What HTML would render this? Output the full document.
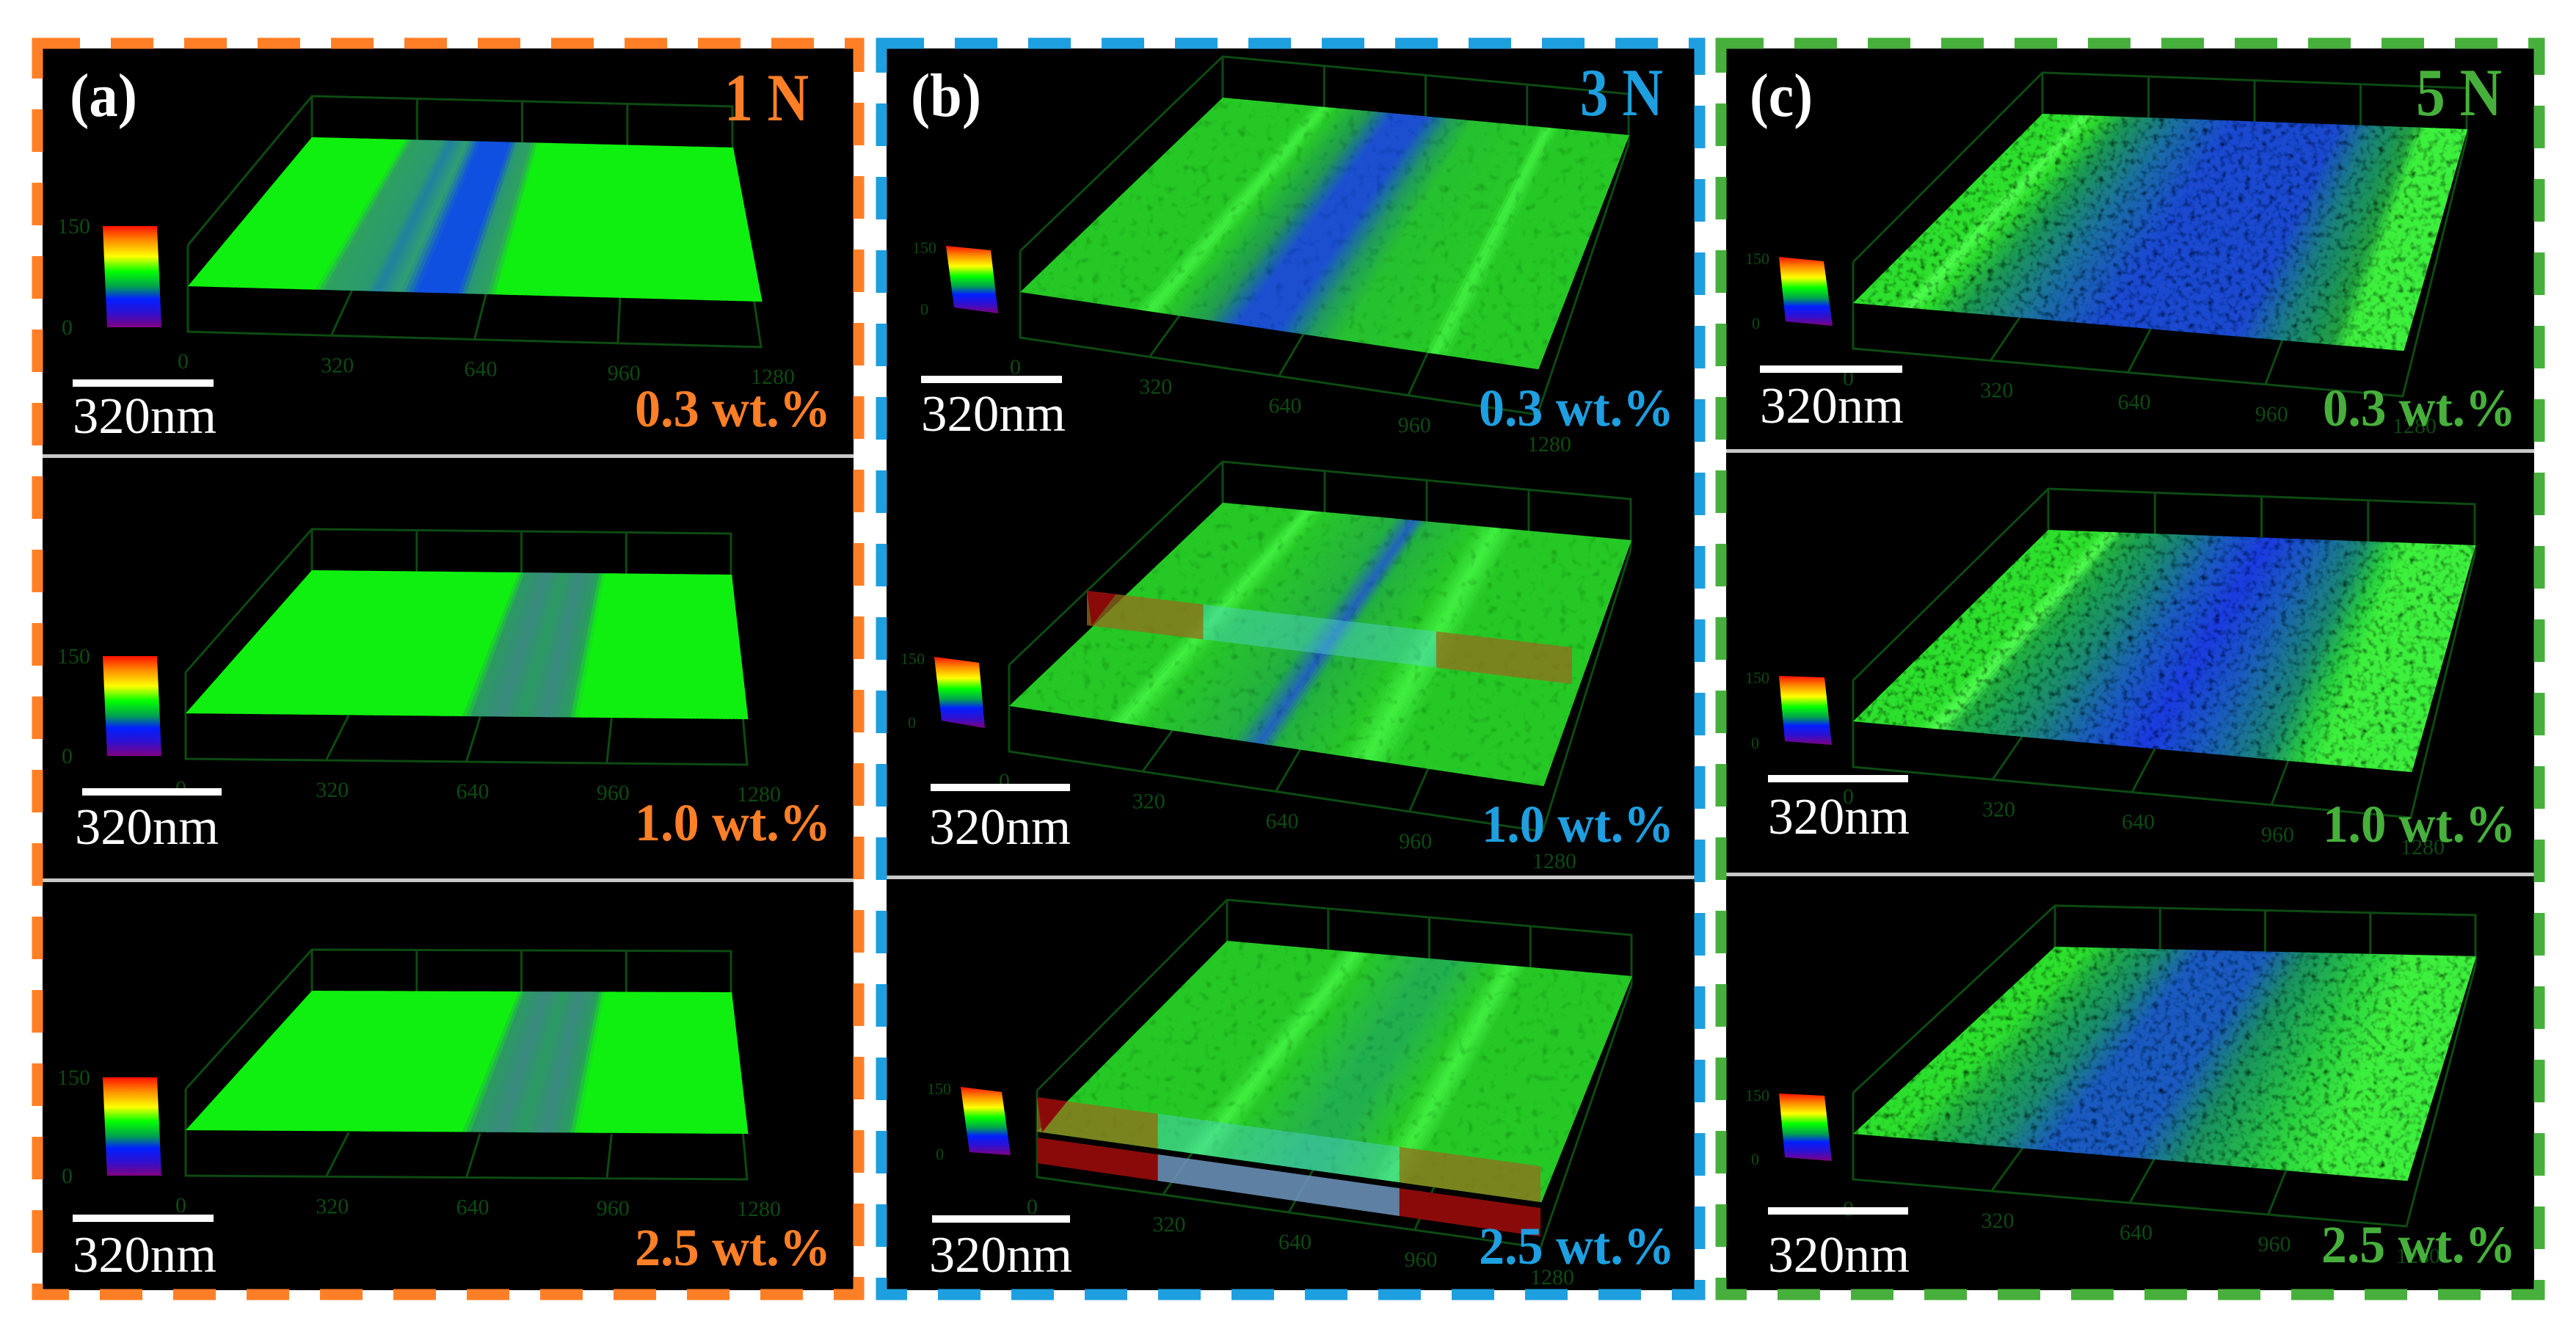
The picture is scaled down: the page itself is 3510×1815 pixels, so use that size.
<!DOCTYPE html>
<html><head><meta charset="utf-8">
<style>
html,body{margin:0;padding:0;background:#fff;}
svg{display:block;}
text{font-family:"Liberation Serif",serif;}
</style></head>
<body>
<svg id="fig" width="3510" height="1815" viewBox="0 0 3510 1815" xmlns="http://www.w3.org/2000/svg">
<defs>
<linearGradient id="cbar" x1="0" y1="0" x2="0" y2="1">
<stop offset="0" stop-color="#ff1000"/><stop offset="0.14" stop-color="#ff8a00"/>
<stop offset="0.3" stop-color="#ffff00"/><stop offset="0.45" stop-color="#00ff00"/>
<stop offset="0.6" stop-color="#00a050"/><stop offset="0.72" stop-color="#0020ff"/>
<stop offset="0.86" stop-color="#3010d0"/><stop offset="1" stop-color="#800080"/>
</linearGradient>
<filter id="grain" x="0" y="0" width="1" height="1">
<feTurbulence type="fractalNoise" baseFrequency="0.12" numOctaves="2" seed="3" result="n"/>
<feColorMatrix in="n" type="matrix" values="0 0 0 0 0  0 0 0 0 0  0 0 0 0 0  0 0 0 -2.2 1.15" result="a"/>
<feComposite in="a" in2="SourceGraphic" operator="in" result="d"/>
<feMerge><feMergeNode in="SourceGraphic"/><feMergeNode in="d"/></feMerge>
</filter>
<filter id="grainLight" x="0" y="0" width="1" height="1">
<feTurbulence type="fractalNoise" baseFrequency="0.08" numOctaves="2" seed="7" result="n"/>
<feColorMatrix in="n" type="matrix" values="0 0 0 0 0  0 0 0 0 0  0 0 0 0 0  0 0 0 -1.2 0.5" result="a"/>
<feComposite in="a" in2="SourceGraphic" operator="in" result="d"/>
<feMerge><feMergeNode in="SourceGraphic"/><feMergeNode in="d"/></feMerge>
</filter>
</defs>

<!-- panel backgrounds -->
<rect x="58" y="66" width="1105" height="1692" fill="#000"/>
<rect x="1208" y="66" width="1101" height="1692" fill="#000"/>
<rect x="2352" y="66" width="1101" height="1692" fill="#000"/>

<!-- row dividers -->
<rect x="58" y="619" width="1105" height="5" fill="#c8c8c8"/>
<rect x="58" y="1197" width="1105" height="5" fill="#c8c8c8"/>
<rect x="1208" y="1193" width="1101" height="5" fill="#c8c8c8"/>
<rect x="2352" y="612" width="1101" height="5" fill="#c8c8c8"/>
<rect x="2352" y="1189" width="1101" height="5" fill="#c8c8c8"/>

<g id="plots"></g>

<!-- dashed borders -->
<rect x="51" y="59" width="1119" height="1705" fill="none" stroke="#ff7f27" stroke-width="15" stroke-dasharray="58 42"/>
<rect x="1201" y="59" width="1115" height="1705" fill="none" stroke="#1e9fe0" stroke-width="15" stroke-dasharray="58 42"/>
<rect x="2345" y="59" width="1115" height="1705" fill="none" stroke="#47b03c" stroke-width="15" stroke-dasharray="58 42"/>

<!-- panel labels -->
<text x="95" y="158" font-size="84" font-weight="bold" fill="#fff" textLength="92" lengthAdjust="spacingAndGlyphs">(a)</text>
<text x="1241" y="158" font-size="84" font-weight="bold" fill="#fff" textLength="96" lengthAdjust="spacingAndGlyphs">(b)</text>
<text x="2384" y="158" font-size="84" font-weight="bold" fill="#fff" textLength="86" lengthAdjust="spacingAndGlyphs">(c)</text>
<text x="987" y="164" font-size="92" font-weight="bold" fill="#ff7f27" textLength="115" lengthAdjust="spacingAndGlyphs">1 N</text>
<text x="2153" y="157" font-size="92" font-weight="bold" fill="#1e9fe0" textLength="113" lengthAdjust="spacingAndGlyphs">3 N</text>
<text x="3292" y="157" font-size="92" font-weight="bold" fill="#47b03c" textLength="117" lengthAdjust="spacingAndGlyphs">5 N</text>

<!-- concentration labels -->
<g font-size="72" font-weight="bold">
<text x="865" y="581" fill="#ff7f27" textLength="267" lengthAdjust="spacingAndGlyphs">0.3 wt.%</text>
<text x="865" y="1145" fill="#ff7f27" textLength="267" lengthAdjust="spacingAndGlyphs">1.0 wt.%</text>
<text x="865" y="1724" fill="#ff7f27" textLength="267" lengthAdjust="spacingAndGlyphs">2.5 wt.%</text>
<text x="2015" y="580" fill="#1e9fe0" textLength="266" lengthAdjust="spacingAndGlyphs">0.3 wt.%</text>
<text x="2019" y="1147" fill="#1e9fe0" textLength="262" lengthAdjust="spacingAndGlyphs">1.0 wt.%</text>
<text x="2015" y="1722" fill="#1e9fe0" textLength="267" lengthAdjust="spacingAndGlyphs">2.5 wt.%</text>
<text x="3165" y="580" fill="#47b03c" textLength="263" lengthAdjust="spacingAndGlyphs">0.3 wt.%</text>
<text x="3165" y="1147" fill="#47b03c" textLength="263" lengthAdjust="spacingAndGlyphs">1.0 wt.%</text>
<text x="3163" y="1720" fill="#47b03c" textLength="265" lengthAdjust="spacingAndGlyphs">2.5 wt.%</text>
</g>

<!-- scale bars -->
<g fill="#fff">
<rect x="99" y="517" width="192" height="10"/>
<rect x="112" y="1074" width="190" height="10"/>
<rect x="99" y="1655" width="192" height="10"/>
<rect x="1255" y="512" width="192" height="10"/>
<rect x="1268" y="1068" width="190" height="10"/>
<rect x="1270" y="1656" width="188" height="10"/>
<rect x="2398" y="498" width="194" height="10"/>
<rect x="2409" y="1056" width="191" height="10"/>
<rect x="2409" y="1645" width="191" height="10"/>
</g>
<g font-size="70" fill="#fff">
<text x="99" y="590" textLength="196" lengthAdjust="spacingAndGlyphs">320nm</text>
<text x="102" y="1150" textLength="196" lengthAdjust="spacingAndGlyphs">320nm</text>
<text x="99" y="1733" textLength="196" lengthAdjust="spacingAndGlyphs">320nm</text>
<text x="1255" y="587" textLength="197" lengthAdjust="spacingAndGlyphs">320nm</text>
<text x="1266" y="1150" textLength="193" lengthAdjust="spacingAndGlyphs">320nm</text>
<text x="1266" y="1733" textLength="195" lengthAdjust="spacingAndGlyphs">320nm</text>
<text x="2398" y="576" textLength="196" lengthAdjust="spacingAndGlyphs">320nm</text>
<text x="2409" y="1136" textLength="193" lengthAdjust="spacingAndGlyphs">320nm</text>
<text x="2409" y="1733" textLength="193" lengthAdjust="spacingAndGlyphs">320nm</text>
</g>
</svg>

<script>
// Surface cell names
const cellNames = ["a-1","a-2","a-3","b-1","b-2","b-3","c-1","c-2","c-3"];
// Color profiles across scratch width (u from 0 to 1): [u, color]
const profileA1 = [[0,"#10f010"],[0.22,"#10f010"],[0.24,"#2ea060"],[0.31,"#2a9a70"],[0.33,"#2080a0"],[0.37,"#30a070"],[0.40,"#1050e0"],[0.47,"#1050e0"],[0.49,"#2a9a70"],[0.52,"#2ea060"],[0.54,"#10f010"],[1,"#10f010"]];
const profileA2 = [[0,"#10f010"],[0.49,"#10f010"],[0.51,"#2a9a60"],[0.56,"#3a8a80"],[0.60,"#2a9a60"],[0.64,"#3a8a80"],[0.68,"#2a9a60"],[0.70,"#10f010"],[1,"#10f010"]];
const profileA3 = [[0,"#10f010"],[0.49,"#10f010"],[0.51,"#2a9a60"],[0.56,"#3a8a80"],[0.60,"#2a9a60"],[0.64,"#3a8a80"],[0.68,"#2a9a60"],[0.70,"#10f010"],[1,"#10f010"]];
const profileB1 = [[0,"#28c828"],[0.22,"#28c828"],[0.25,"#40f040"],[0.28,"#28c828"],[0.36,"#209a50"],[0.42,"#1e50d0"],[0.50,"#1e50d0"],[0.56,"#209a60"],[0.62,"#28c030"],[0.78,"#28c828"],[0.80,"#40f040"],[0.83,"#28c828"],[1,"#28c828"]];
const profileB2 = [[0,"#28c828"],[0.18,"#28c828"],[0.21,"#40f040"],[0.25,"#28c828"],[0.42,"#24b040"],[0.47,"#2060c0"],[0.50,"#24b040"],[0.62,"#28c828"],[0.67,"#40f040"],[0.72,"#28c828"],[1,"#28c828"]];
const profileB3 = [[0,"#28c828"],[0.28,"#28c828"],[0.32,"#40f040"],[0.36,"#28c828"],[0.50,"#24b050"],[0.56,"#24b050"],[0.66,"#28c828"],[0.70,"#40f040"],[0.74,"#28c828"],[1,"#28c828"]];
const profileC1 = [[0,"#2ee02e"],[0.08,"#2ee02e"],[0.10,"#50ff50"],[0.13,"#2ee02e"],[0.20,"#1e9a50"],[0.32,"#1a70a0"],[0.45,"#1a4ad0"],[0.70,"#1a4ad0"],[0.78,"#1a8080"],[0.87,"#22a040"],[0.90,"#3ef03e"],[1,"#3ef03e"]];
const profileC2 = [[0,"#2ee02e"],[0.12,"#2ee02e"],[0.15,"#50ff50"],[0.18,"#22b040"],[0.30,"#1a8a70"],[0.42,"#1a5ac0"],[0.52,"#1a3ae0"],[0.62,"#1a5ac0"],[0.74,"#1a8a70"],[0.80,"#2ad040"],[0.84,"#3ef03e"],[1,"#3ef03e"]];
const profileC3 = [[0,"#2ee02e"],[0.08,"#2ee02e"],[0.14,"#22b040"],[0.26,"#1a8a70"],[0.35,"#1a5ac0"],[0.50,"#1a5ac0"],[0.60,"#1a9060"],[0.75,"#2ad040"],[0.85,"#3ef03e"],[1,"#3ef03e"]];
const profiles = [profileA1,profileA2,profileA3,profileB1,profileB2,profileB3,profileC1,profileC2,profileC3];
// Surface corners [TL, TR, BR, BL]
const corners = [
 [[425,187],[998,201],[1037,411],[256,390]],
 [[425,777],[996,783],[1018,980],[253,972]],
 [[425,1350],[996,1352],[1018,1545],[253,1540]],
 [[1666,133],[2219,184],[2095,503],[1390,398]],
 [[1666,685],[2222,736],[2102,1071],[1375,962]],
 [[1672,1282],[2223,1330],[2099,1638],[1413,1542]],
 [[2783,155],[3361,176],[3274,478],[2525,413]],
 [[2791,722],[3372,743],[3285,1052],[2525,983]],
 [[2800,1290],[3373,1303],[3279,1609],[2525,1545]]
];
// Colour-bar quads [TL, TR, BR, BL]
const colorbars = [
 [[140,308],[214,308],[220,446],[146,446]],
 [[140,894],[214,894],[220,1030],[146,1030]],
 [[140,1468],[214,1468],[220,1602],[146,1602]],
 [[1289,335],[1350,341],[1360,427],[1300,419]],
 [[1273,895],[1334,903],[1342,992],[1283,982]],
 [[1309,1481],[1365,1488],[1377,1574],[1321,1570]],
 [[2424,350],[2485,356],[2497,444],[2433,438]],
 [[2424,921],[2486,923],[2496,1015],[2432,1010]],
 [[2424,1490],[2486,1493],[2496,1582],[2432,1577]]
];
const xTicks = ["0","320","640","960","1280"];

const NS = "http://www.w3.org/2000/svg";
const plots = document.getElementById("plots");
function lerp(a,b,t){return [a[0]+(b[0]-a[0])*t, a[1]+(b[1]-a[1])*t];}
function hex(c){return [parseInt(c.substr(1,2),16),parseInt(c.substr(3,2),16),parseInt(c.substr(5,2),16)];}
function colorAt(prof,u){
  for(let i=0;i<prof.length-1;i++){
    if(u>=prof[i][0] && u<=prof[i+1][0]){
      const t=(u-prof[i][0])/((prof[i+1][0]-prof[i][0])||1);
      const a=hex(prof[i][1]), b=hex(prof[i+1][1]);
      return "rgb("+a.map((v,k)=>Math.round(v+(b[k]-v)*t)).join(",")+")";
    }
  }
  return prof[prof.length-1][1];
}
function pts(arr){return arr.map(p=>p[0].toFixed(1)+","+p[1].toFixed(1)).join(" ");}
function shift(p,dy){return [p[0],p[1]+dy];}

cellNames.forEach((name,ci)=>{
  const [TL,TR,BR,BL] = corners[ci];
  const panel = name[0];
  const g = document.createElementNS(NS,"g");
  
  
  plots.appendChild(g);

  // 3D box frame
  const up=-56, dn=62;
  const frame = document.createElementNS(NS,"path");
  const cTL=shift(TL,up), cTR=shift(TR,up), cBL=shift(BL,up);
  const fTL=shift(TL,dn*0.2), fBL=shift(BL,dn), fBR=shift(BR,dn), fTR=shift(TR,dn*0.2);
  let d="M"+pts([cBL])+" L"+pts([cTL])+" L"+pts([cTR])+" L"+pts([fTR])+
        " M"+pts([cTL])+" L"+pts([fTL])+
        " M"+pts([cBL])+" L"+pts([fBL])+" L"+pts([fBR])+" L"+pts([fTR]);
  for(let k=1;k<4;k++){ const u=k/4; const a=lerp(cTL,cTR,u); d+=" M"+pts([a])+" L"+pts([shift(a,-up+4)]); const b=lerp(fBL,fBR,u); const bb=lerp(fTL,fTR,u); d+=" M"+pts([b])+" L"+pts([lerp(b,bb,0.25)]); }
  frame.setAttribute("d",d);
  frame.setAttribute("fill","none");
  frame.setAttribute("stroke","#0d4a12");
  frame.setAttribute("stroke-width","3");
  
  
  g.appendChild(frame);

  // x tick labels
  xTicks.forEach((t,k)=>{
    const p=lerp(fBL,fBR,k/(xTicks.length-1));
    const tx=document.createElementNS(NS,"text");
    tx.setAttribute("x",p[0]-14); tx.setAttribute("y",p[1]+50);
    tx.setAttribute("font-size","30"); tx.setAttribute("fill","#0d4a12");
    
    
    tx.textContent=t; g.appendChild(tx);
  });

  // surface strips
  const sg = document.createElementNS(NS,"g");
  
  
  if(panel==="c") sg.setAttribute("filter","url(#grain)");
  else if(panel==="b") sg.setAttribute("filter","url(#grainLight)");
  g.appendChild(sg);
  const N=140, prof=profiles[ci];
  for(let i=0;i<N;i++){
    const u0=i/N, u1=(i+1)/N;
    const poly=document.createElementNS(NS,"polygon");
    poly.setAttribute("points",pts([lerp(TL,TR,u0),lerp(TL,TR,u1+0.002),lerp(BL,BR,u1+0.002),lerp(BL,BR,u0)]));
    const col=colorAt(prof,(u0+u1)/2);
    poly.setAttribute("fill",col);
    
    
    sg.appendChild(poly);
  }

  // colour bar
  const cb=document.createElementNS(NS,"polygon");
  cb.setAttribute("points",pts(colorbars[ci]));
  cb.setAttribute("fill","url(#cbar)");
  
  
  g.appendChild(cb);
  const cbt=colorbars[ci];
  [["150",cbt[0]],["0",cbt[3]]].forEach(([t,p])=>{
    const tx=document.createElementNS(NS,"text");
    tx.setAttribute("x",p[0]-(panel==="a"?62:46)); tx.setAttribute("y",p[1]+10);
    tx.setAttribute("font-size",panel==="a"?"30":"22"); tx.setAttribute("fill","#0d4a12");
    
    
    tx.textContent=t; g.appendChild(tx);
  });
});

// Cross-section overlays in panel (b)
const overlayBands = [
  {cell:"b-2", top:[[1481,805],[2142,882]], bot:[[1481,852],[2142,932]], front:null},
  {cell:"b-3", top:[[1413,1495],[2099,1589]], bot:[[1413,1542],[2099,1638]], front:[[1413,1585],[2099,1685]]}
];
const bandSplits = [0.24, 0.72];
overlayBands.forEach(b=>{
  const segs=[[0,bandSplits[0],"rgba(150,110,30,0.75)"],[bandSplits[0],bandSplits[1],"rgba(80,210,210,0.45)"],[bandSplits[1],1,"rgba(150,110,30,0.75)"]];
  segs.forEach(([u0,u1,col])=>{
    const p=document.createElementNS(NS,"polygon");
    p.setAttribute("points",pts([lerp(b.top[0],b.top[1],u0),lerp(b.top[0],b.top[1],u1),lerp(b.bot[0],b.bot[1],u1),lerp(b.bot[0],b.bot[1],u0)]));
    p.setAttribute("fill",col);
    
    
    plots.appendChild(p);
    if(b.front){
      const f=document.createElementNS(NS,"polygon");
      const tt=[lerp(b.bot[0],b.bot[1],u0),lerp(b.bot[0],b.bot[1],u1)];
      f.setAttribute("points",pts([shift(tt[0],8),shift(tt[1],8),lerp(b.front[0],b.front[1],u1),lerp(b.front[0],b.front[1],u0)]));
      f.setAttribute("fill",col.indexOf("150")>=0?"#8a0a0a":"rgba(110,150,190,0.85)");
      
      
      plots.appendChild(f);
    }
  });
  const tri=document.createElementNS(NS,"polygon");
  const a0=b.top[0], a1=lerp(b.top[0],b.top[1],0.06), a2=lerp(b.bot[0],b.bot[1],0.01);
  tri.setAttribute("points",pts([a0,a1,a2]));
  tri.setAttribute("fill","#8a0a0a");
  
  
  plots.appendChild(tri);
});
</script>
</body></html>
